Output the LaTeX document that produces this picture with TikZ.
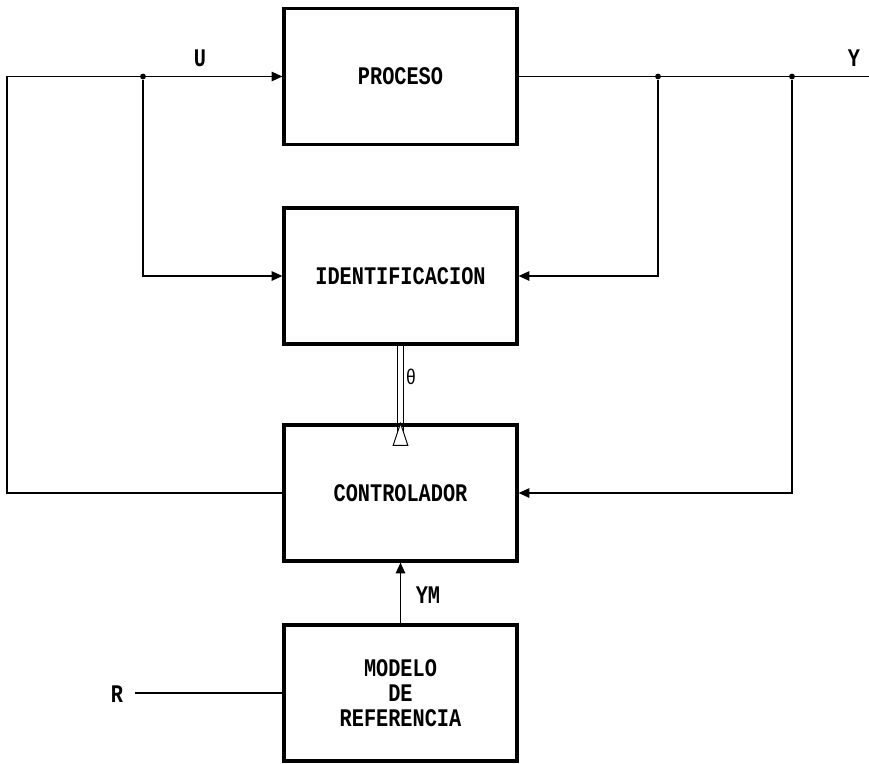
\documentclass[tikz,border=0pt]{standalone}
\usepackage{fontspec}
\usetikzlibrary{arrows.meta}
\newfontfamily\plotfont[FakeStretch=0.8]{Liberation Mono}

\tikzset{every picture/.style={line width=0.75pt}}
\tikzset{
  blockbox/.style={draw, line width=2.4pt, minimum width=174.75pt, minimum height=102pt, inner sep=0pt, align=center, font=\plotfont\bfseries\fontsize{19}{19}\selectfont},
  sigline/.style={line width=1.1pt},
  sigarrow/.style={sigline, -{Triangle[length=8pt,width=7pt]}},
  junct/.style={circle, fill, inner sep=0pt, minimum size=4.4pt},
  siglabel/.style={font=\plotfont\bfseries\fontsize{19}{19}\selectfont}
}

\begin{document}
\begin{tikzpicture}[x=0.75pt,y=0.75pt,yscale=-1]
\useasboundingbox (0,0) rectangle (869,764);

%Shape: Rectangle [proceso]
\node[blockbox] (proceso) at (400.5,76.5) {PROCESO};
%Shape: Rectangle [ident]
\node[blockbox] (ident) at (400.5,276) {IDENTIFICACION};
%Shape: Rectangle [ctrl]
\node[blockbox] (ctrl) at (400.5,493) {CONTROLADOR};
%Shape: Rectangle [modelo]
\node[blockbox] (modelo) at (400.5,693) {MODELO\\DE\\REFERENCIA};

%Junctions
\node[junct] (ju) at (143,76.5) {};
\node[junct] (jy1) at (658,76.5) {};
\node[junct] (jy2) at (792,76.5) {};
\coordinate (lc) at (7,76.5);
\coordinate (yend) at (869,76.5);
\coordinate (rin) at (135,693);

%Straight Lines [U loop]
\draw[sigarrow] (ctrl.west) -| (lc) -- (proceso.west);
\draw[sigarrow] (ju) |- (ident.west);
%Straight Lines [Y output]
\draw[sigline] (proceso.east) -- (yend);
\draw[sigarrow] (jy1) |- (ident.east);
\draw[sigarrow] (jy2) |- (ctrl.east);
%Straight Lines [YM]
\draw[sigarrow] (modelo.north) -- (ctrl.south);
%Straight Lines [R]
\draw[sigline] (rin) -- (modelo.west);
%Double arrow [theta]
\coordinate (thbase) at ([yshift=16.5pt]ctrl.north);
\draw ([xshift=-2.4pt]ident.south) -- ([xshift=-2.4pt]thbase);
\draw ([xshift=2.4pt]ident.south) -- ([xshift=2.4pt]thbase);
\draw[fill=white] ([xshift=-5.5pt]thbase) -- ([xshift=5.5pt]thbase) -- (ctrl.north) -- cycle;

% Text Node
\node[siglabel] (ulab) at (200,58) {U};
% Text Node
\node[siglabel] (ylab) at (854,58) {Y};
% Text Node
\node[font=\plotfont\fontsize{16}{16}\selectfont] (thlab) at (411,377) {θ};
% Text Node
\node[siglabel] (ymlab) at (428,595) {YM};
% Text Node
\node[siglabel] (rlab) at (117,694) {R};

\end{tikzpicture}
\end{document}
